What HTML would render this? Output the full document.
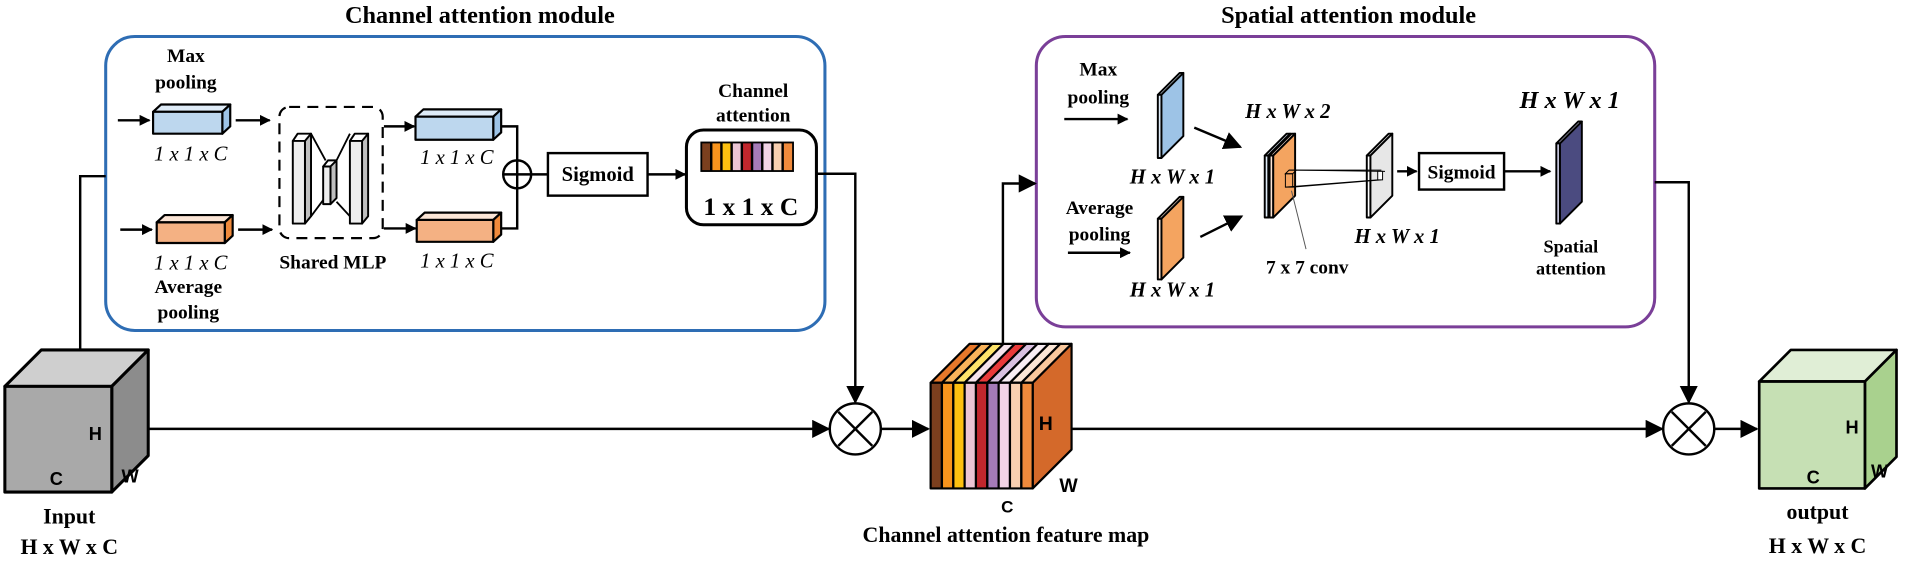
<!DOCTYPE html>
<html><head><meta charset="utf-8"><style>html,body{margin:0;padding:0;background:#fff;}svg{display:block}</style></head>
<body>
<svg width="1905" height="565" viewBox="0 0 1568 465" xmlns="http://www.w3.org/2000/svg" font-family="Liberation Serif, serif">
<defs>
<marker id="a" viewBox="0 0 10 10" refX="9" refY="5" markerWidth="9" markerHeight="9" markerUnits="userSpaceOnUse" orient="auto"><path d="M0,0 L10,5 L0,10 z" fill="#000"/></marker>
<marker id="b" viewBox="0 0 10 10" refX="9" refY="5" markerWidth="15" markerHeight="15" markerUnits="userSpaceOnUse" orient="auto"><path d="M0,0 L10,5 L0,10 z" fill="#000"/></marker>
</defs>
<g font-weight="bold" text-anchor="middle" fill="#000">
<text x="395" y="19" font-size="20">Channel attention module</text>
<text x="1110" y="19" font-size="20">Spatial attention module</text>
</g>
<rect x="87" y="30" width="592" height="242" rx="24" fill="none" stroke="#2e6db4" stroke-width="2.5"/>
<rect x="853" y="30" width="509" height="239" rx="24" fill="none" stroke="#7a3f98" stroke-width="2.5"/>

<g stroke="#000" stroke-width="2" fill="none">
<polyline points="66,288 66,145 87,145"/>
<line x1="122" y1="353" x2="682" y2="353" marker-end="url(#b)"/>
<line x1="725" y1="353" x2="764" y2="353" marker-end="url(#b)"/>
<line x1="882" y1="353" x2="1368" y2="353" marker-end="url(#b)"/>
<line x1="1411" y1="353" x2="1446" y2="353" marker-end="url(#b)"/>
<polyline points="672,143 704,143 704,331" marker-end="url(#b)"/>
<polyline points="825.5,283 825.5,151 852,151" marker-end="url(#b)"/>
<polyline points="1362,150 1390,150 1390,331" marker-end="url(#b)"/>
<circle cx="704" cy="353" r="21" fill="#fff"/>
<line x1="690" y1="339" x2="718" y2="367"/><line x1="718" y1="339" x2="690" y2="367"/>
<circle cx="1390" cy="353" r="21" fill="#fff"/>
<line x1="1376" y1="339" x2="1404" y2="367"/><line x1="1404" y1="339" x2="1376" y2="367"/>
<line x1="97" y1="99" x2="123" y2="99" marker-end="url(#a)"/>
<line x1="194" y1="99" x2="222" y2="99" marker-end="url(#a)"/>
<line x1="99" y1="189" x2="125" y2="189" marker-end="url(#a)"/>
<line x1="196" y1="189" x2="224" y2="189" marker-end="url(#a)"/>
<line x1="316" y1="104" x2="341" y2="104" marker-end="url(#a)"/>
<line x1="316" y1="188" x2="342" y2="188" marker-end="url(#a)"/>
<polyline points="409,104 425.7,104 425.7,188 409,188"/>
<line x1="437" y1="143.5" x2="451" y2="143.5"/>
<line x1="533" y1="143.5" x2="564" y2="143.5" marker-end="url(#a)"/>
</g>
<circle cx="425.7" cy="143.5" r="11.5" fill="#fff" stroke="#000" stroke-width="2"/>
<line x1="414.2" y1="143.5" x2="437.2" y2="143.5" stroke="#000" stroke-width="2"/>
<line x1="425.7" y1="132" x2="425.7" y2="155" stroke="#000" stroke-width="2"/>

<!-- input cube -->
<g stroke="#000" stroke-width="2.5" stroke-linejoin="round">
<polygon points="4,318 34,288 122,288 92,318" fill="#cfcfcf"/>
<polygon points="92,318 122,288 122,375 92,405" fill="#8c8c8c"/>
<rect x="4" y="318" width="88" height="87" fill="#a9a9a9"/>
</g>
<g font-family="Liberation Sans, sans-serif" font-weight="bold" font-size="15" fill="#000">
<text x="73" y="362">H</text><text x="41" y="399">C</text><text x="100" y="397">W</text>
</g>

<g stroke="#000" stroke-width="1.8" stroke-linejoin="round">
<polygon points="126,92 132.5,86 189.5,86 183,92" fill="#deebf7"/><polygon points="183,92 189.5,86 189.5,104 183,110" fill="#9dc3e6"/><rect x="126" y="92" width="57" height="18" fill="#bdd7ee"/>
<polygon points="129,183 135.5,177 191.5,177 185,183" fill="#fbe5d6"/><polygon points="185,183 191.5,177 191.5,194 185,200" fill="#f08a3c"/><rect x="129" y="183" width="56" height="17" fill="#f4b183"/>
<polygon points="342,96 348.5,90 412.5,90 406,96" fill="#deebf7"/><polygon points="406,96 412.5,90 412.5,109 406,115" fill="#9dc3e6"/><rect x="342" y="96" width="64" height="19" fill="#bdd7ee"/>
<polygon points="343,181 349.5,175 412.5,175 406,181" fill="#fbe5d6"/><polygon points="406,181 412.5,175 412.5,193 406,199" fill="#f08a3c"/><rect x="343" y="181" width="63" height="18" fill="#f4b183"/>
</g>
<rect x="230" y="88" width="85" height="108" rx="8" fill="none" stroke="#000" stroke-width="1.8" stroke-dasharray="9,6"/>
<g stroke="#000" stroke-width="1.5" stroke-linejoin="round" fill="none">
<polyline points="256,110 268,132"/><polyline points="256,178 268,162"/>
<polyline points="277,132 288,110"/><polyline points="277,166 288,178"/>
</g>
<g stroke="#000" stroke-width="1.6" stroke-linejoin="round">
<polygon points="241,116 245,110 256,110 252,116" fill="#ffffff"/><polygon points="251,116 256,110 256,178 251,184" fill="#bfbfbf"/><rect x="241" y="116" width="10" height="68" fill="#eeeeee"/>
<polygon points="266,137 270,132 277,132 273,137" fill="#ffffff"/><polygon points="272,137 277,132 277,163 272,168" fill="#bfbfbf"/><rect x="266" y="137" width="6" height="31" fill="#eeeeee"/>
<polygon points="288,116 292,110 303,110 299,116" fill="#ffffff"/><polygon points="298,116 303,110 303,178 298,184" fill="#bfbfbf"/><rect x="288" y="116" width="10" height="68" fill="#eeeeee"/>
</g>
<rect x="451" y="126" width="82" height="35" fill="#fff" stroke="#000" stroke-width="2"/>
<rect x="565" y="107" width="107" height="78" rx="14" fill="#fff" stroke="#000" stroke-width="2.5"/>
<g stroke="#000" stroke-width="1">
<rect x="577" y="117" width="76" height="24" fill="#000"/>
<rect x="577.5" y="117.5" width="7.4" height="23" fill="#7b3f1e"/>
<rect x="585.9" y="117.5" width="7.4" height="23" fill="#f7941d"/>
<rect x="594.3" y="117.5" width="7.4" height="23" fill="#fdc010"/>
<rect x="602.7" y="117.5" width="7.4" height="23" fill="#ecc5d4"/>
<rect x="611.1" y="117.5" width="7.4" height="23" fill="#c1272d"/>
<rect x="619.5" y="117.5" width="7.4" height="23" fill="#a57bb8"/>
<rect x="627.9" y="117.5" width="7.4" height="23" fill="#f2d4e6"/>
<rect x="636.3" y="117.5" width="7.4" height="23" fill="#f8cfb0"/>
<rect x="644.7" y="117.5" width="7.8" height="23" fill="#f08a3c"/>
</g>

<g font-weight="bold" text-anchor="middle" fill="#000" font-size="16">
<text x="153" y="51">Max</text><text x="153" y="73">pooling</text>
<text x="155" y="241">Average</text><text x="155" y="262">pooling</text>
<text x="274" y="221">Shared MLP</text>
<text x="492" y="149" font-size="17">Sigmoid</text>
<text x="620" y="80">Channel</text><text x="620" y="100">attention</text>
<text x="618" y="177" font-size="21">1 x 1 x C</text>
</g>
<g font-style="italic" text-anchor="middle" fill="#000" font-size="17">
<text x="157" y="132">1 x 1 x C</text>
<text x="157" y="222">1 x 1 x C</text>
<text x="376" y="135">1 x 1 x C</text>
<text x="376" y="220">1 x 1 x C</text>
</g>

<g stroke="#000" stroke-width="1.8" stroke-linejoin="round">
<polygon points="850,315 882,283 882,370 850,402" fill="#d4692a"/>
<polygon points="766,315 798,283 807.3,283 775.3,315" fill="#e8782a"/>
<polygon points="775.3,315 807.3,283 816.7,283 784.7,315" fill="#f9b35a"/>
<polygon points="784.7,315 816.7,283 826,283 794,315" fill="#fde36a"/>
<polygon points="794,315 826,283 835.3,283 803.3,315" fill="#f7e4ec"/>
<polygon points="803.3,315 835.3,283 844.7,283 812.7,315" fill="#e83a3a"/>
<polygon points="812.7,315 844.7,283 854,283 822,315" fill="#d9c0e0"/>
<polygon points="822,315 854,283 863.3,283 831.3,315" fill="#f9eef4"/>
<polygon points="831.3,315 863.3,283 872.7,283 840.7,315" fill="#fbe6d6"/>
<polygon points="840.7,315 872.7,283 882,283 850,315" fill="#f8c79c"/>
<rect x="766" y="315" width="9.3" height="87" fill="#7b3f1e"/>
<rect x="775.3" y="315" width="9.3" height="87" fill="#f7941d"/>
<rect x="784.7" y="315" width="9.3" height="87" fill="#fdc010"/>
<rect x="794" y="315" width="9.3" height="87" fill="#ecc5d4"/>
<rect x="803.3" y="315" width="9.3" height="87" fill="#c1272d"/>
<rect x="812.7" y="315" width="9.3" height="87" fill="#a57bb8"/>
<rect x="822" y="315" width="9.3" height="87" fill="#f2d4e6"/>
<rect x="831.3" y="315" width="9.3" height="87" fill="#f8cfb0"/>
<rect x="840.7" y="315" width="9.3" height="87" fill="#f08a3c"/>
</g>
<g font-family="Liberation Sans, sans-serif" font-weight="bold" font-size="16" fill="#000">
<text x="855" y="354">H</text><text x="872" y="405">W</text><text x="824" y="422" font-size="14">C</text>
</g>
<text x="828" y="446" font-weight="bold" font-size="18" text-anchor="middle">Channel attention feature map</text>
<g font-weight="bold" text-anchor="middle" font-size="18">
<text x="57" y="431">Input</text><text x="57" y="456">H x W x C</text>
<text x="1496" y="427">output</text><text x="1496" y="455">H x W x C</text>
</g>

<g stroke="#000" stroke-width="2.2" stroke-linejoin="round">
<polygon points="1448,314 1474,288 1561,288 1535,314" fill="#e0eed6"/>
<polygon points="1535,314 1561,288 1561,376 1535,402" fill="#a9d18e"/>
<rect x="1448" y="314" width="87" height="88" fill="#c6e0b4"/>
</g>
<g font-family="Liberation Sans, sans-serif" font-weight="bold" font-size="15" fill="#000">
<text x="1519" y="357">H</text><text x="1487" y="398">C</text><text x="1540" y="393">W</text>
</g>

<g stroke="#000" stroke-width="2" fill="none">
<line x1="876" y1="98" x2="928" y2="98" marker-end="url(#a)"/>
<line x1="879" y1="208" x2="930" y2="208" marker-end="url(#a)"/>
<line x1="983" y1="105" x2="1021" y2="121" marker-end="url(#b)"/>
<line x1="988" y1="195" x2="1022" y2="178" marker-end="url(#b)"/>
<line x1="1150" y1="141" x2="1166" y2="141" marker-end="url(#a)"/>
<line x1="1238" y1="141" x2="1276" y2="141" marker-end="url(#a)"/>
</g>
<g stroke="#000" stroke-width="1.6" stroke-linejoin="round">
<polygon points="953,78 971,60 974,60 956,78" fill="#deebf7"/><rect x="953" y="78" width="3" height="52" fill="#deebf7"/><polygon points="956,130 956,78 974,60 974,112" fill="#9dc3e6"/>
<polygon points="953,180 971,162 974,162 956,180" fill="#fbe5d6"/><rect x="953" y="180" width="3" height="50" fill="#fbe5d6"/><polygon points="956,230 956,180 974,162 974,212" fill="#f4a460"/>
<polygon points="1041,128 1059,110 1062,110 1044,128" fill="#deebf7"/><rect x="1041" y="128" width="3" height="51" fill="#deebf7"/><polygon points="1044,179 1044,128 1062,110 1062,161" fill="#9dc3e6"/>
<polygon points="1045,128 1063,110 1066,110 1048,128" fill="#fbe5d6"/><rect x="1045" y="128" width="3" height="51" fill="#fbe5d6"/><polygon points="1048,179 1048,128 1066,110 1066,161" fill="#f4a460"/>
<polygon points="1125,128 1143,110 1146,110 1128,128" fill="#fff"/><rect x="1125" y="128" width="3" height="51" fill="#fff"/><polygon points="1128,179 1128,128 1146,110 1146,161" fill="#e7e7e7"/>
<polygon points="1281,118 1299,100 1302,100 1284,118" fill="#c8c8e0"/><rect x="1281" y="118" width="3" height="66" fill="#c8c8e0"/><polygon points="1284,184 1284,118 1302,100 1302,166" fill="#4b4b80"/>
</g>
<g stroke="#000" stroke-width="0.8" fill="none">
<rect x="1058" y="143" width="6" height="11" fill="#f4a460"/>
<polygon points="1058,143 1061,140 1067,140 1064,143"/>
<line x1="1061" y1="140" x2="1137" y2="140"/><line x1="1067" y1="140" x2="1140" y2="141"/>
<line x1="1064" y1="154" x2="1137" y2="148"/><line x1="1058" y1="154" x2="1134" y2="148"/>
<rect x="1134" y="141" width="4" height="7" fill="#fff"/>
<line x1="1075" y1="205" x2="1063" y2="157" stroke="#555"/>
</g>
<rect x="1168" y="126" width="70" height="30" fill="#fff" stroke="#000" stroke-width="2"/>
<g font-weight="bold" text-anchor="middle" fill="#000" font-size="16">
<text x="904" y="62">Max</text><text x="904" y="85">pooling</text>
<text x="905" y="176">Average</text><text x="905" y="198">pooling</text>
<text x="1203" y="147">Sigmoid</text>
<text x="1076" y="225">7 x 7 conv</text>
<text x="1293" y="208" font-size="15">Spatial</text><text x="1293" y="226" font-size="15">attention</text>
</g>
<g font-weight="bold" font-style="italic" text-anchor="middle" fill="#000" font-size="17">
<text x="965" y="151">H x W x 1</text>
<text x="965" y="244">H x W x 1</text>
<text x="1060" y="97">H x W x 2</text>
<text x="1150" y="200">H x W x 1</text>
<text x="1292" y="89" font-size="20">H x W x 1</text>
</g>
</svg>
</body></html>
